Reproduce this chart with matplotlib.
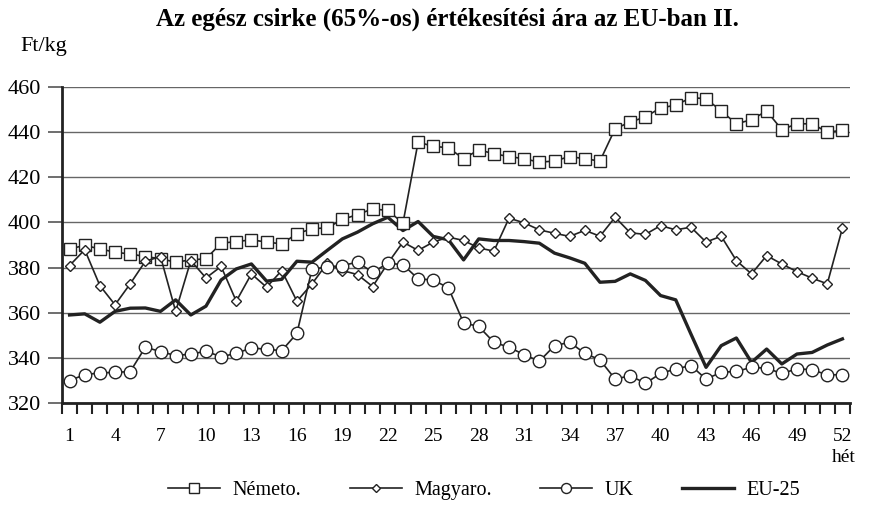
import matplotlib
matplotlib.use("Agg")
import matplotlib.pyplot as plt
import numpy as np

plt.rcParams['font.family'] = ['Liberation Serif', 'DejaVu Serif']

weeks = list(range(1, 53))

nemeto = [388.3, 389.8, 388.3, 386.8, 386.0, 384.9, 383.9, 382.4, 383.4, 383.9,
          390.8, 391.5, 392.3, 391.3, 390.5, 395.0, 397.2, 397.6, 401.3, 403.5,
          406.0, 405.3, 399.7, 435.6, 433.7, 433.1, 428.2, 432.2, 430.4, 429.2,
          428.2, 426.7, 427.2, 429.2, 428.2, 427.2, 441.5, 444.5, 446.7, 450.8,
          451.9, 455.3, 454.8, 449.4, 443.7, 445.5, 449.4, 441.1, 443.7, 443.7,
          440.0, 440.8]

magyaro = [380.9, 387.9, 372.0, 363.5, 372.8, 382.8, 384.9, 360.6, 383.1, 375.4,
           380.5, 365.1, 377.2, 371.3, 378.7, 365.1, 372.8, 381.9, 378.7, 376.9,
           371.6, 381.9, 391.3, 387.6, 391.3, 393.5, 392.0, 388.7, 387.3, 401.9,
           399.8, 396.7, 395.2, 393.8, 396.5, 393.9, 402.3, 395.4, 394.7, 398.6,
           396.7, 397.9, 391.3, 393.9, 383.1, 377.2, 385.3, 381.6, 378.2, 375.3,
           372.8, 397.5]

uk = [329.9, 332.6, 333.3, 333.6, 333.9, 344.7, 342.8, 341.0, 341.7, 342.9,
      340.5, 342.0, 344.4, 343.8, 343.2, 350.8, 379.4, 380.2, 380.9, 382.4,
      377.9, 381.9, 381.3, 375.0, 374.5, 371.0, 355.5, 353.9, 346.9, 344.7,
      341.4, 338.5, 345.4, 346.9, 342.0, 339.1, 330.6, 332.1, 328.7, 333.1,
      335.1, 336.6, 330.6, 333.6, 334.0, 335.8, 335.4, 333.1, 335.1, 334.8,
      332.4, 332.6]

eu25 = [359.0, 359.5, 355.8, 360.6, 362.0, 362.1, 360.6, 365.7, 359.0, 362.9,
        374.5, 379.4, 381.6, 374.0, 374.8, 382.8, 382.4, 387.6, 392.7, 395.7,
        399.4, 402.3, 396.4, 400.4, 393.8, 392.3, 383.4, 392.7, 392.0, 392.0,
        391.5, 390.8, 386.4, 384.3, 381.9, 373.5, 373.9, 377.2, 374.3, 367.6,
        365.7, 350.6, 335.8, 345.4, 348.8, 338.0, 343.9, 337.3, 341.7, 342.4,
        345.7, 348.4]

labels = ["Németo.", "Magyaro.", "UK", "EU-25"]
title = "Az egész csirke (65%-os) értékesítési ára az EU-ban II."

fig = plt.figure(figsize=(8.71, 5.16), dpi=100)
ax = fig.add_axes([62/871, 1-403/516, (850-62)/871, (403-87)/516])

ax.plot(weeks, nemeto, color='#222222', lw=1.2, marker='s', ms=8.5,
        mfc='white', mec='#222222', mew=1.0, label=labels[0], zorder=4)
ax.plot(weeks, magyaro, color='#222222', lw=1.2, marker='D', ms=5,
        mfc='white', mec='#222222', mew=1.0, label=labels[1], zorder=4)
ax.plot(weeks, uk, color='#222222', lw=1.2, marker='o', ms=9,
        mfc='white', mec='#222222', mew=1.0, label=labels[2], zorder=4)
ax.plot(weeks, eu25, color='#222222', lw=2.4, label=labels[3], zorder=3)

ax.set_xlim(0.5, 52.5)
ax.set_ylim(320, 460)
ax.set_yticks(np.arange(320, 461, 20))
ax.yaxis.grid(True, color='#666666', lw=1.0)
ax.set_axisbelow(True)

ax.set_xticks(np.arange(0.5, 53, 1))
ax.set_xticklabels([])
ax.tick_params(axis='x', which='major', direction='out', length=8, width=1.5, color='#222222')
ax.set_xticks(weeks[::3], minor=True)
ax.set_xticklabels([str(w) for w in weeks[::3]], minor=True, fontsize=14)
ax.tick_params(axis='x', which='minor', length=0, pad=18)
ax.tick_params(axis='y', length=10, width=1.2, labelsize=16, pad=5, color='#555555')

for s in ['top', 'right']:
    ax.spines[s].set_visible(False)
for s in ['left', 'bottom']:
    ax.spines[s].set_linewidth(2)
    ax.spines[s].set_color('#222222')

fig.text(447/871, 1-19/516, title, ha='center', va='center', fontsize=18, fontweight='bold')
fig.text(20/871, 1-46/516, "Ft/kg", ha='left', va='center', fontsize=16)
fig.text(856/871, 1-458/516, "hét", ha='right', va='center', fontsize=14)

fig.legend(loc='center', bbox_to_anchor=(484/871, 1-490/516), ncol=4, frameon=False,
           fontsize=14.5, handlelength=2.6, columnspacing=2.4, handletextpad=0.6,
           markerscale=0.8)

fig.savefig("out.png", dpi=100)
